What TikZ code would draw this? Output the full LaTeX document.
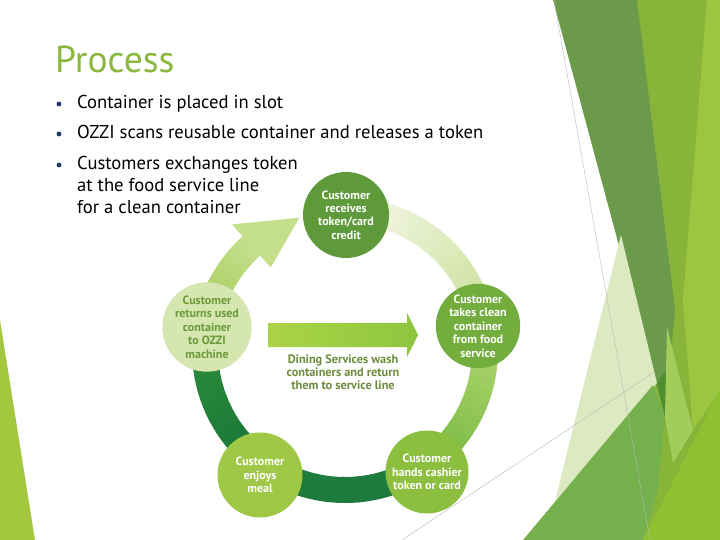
\documentclass[tikz,border=0pt]{standalone}
\usepackage{fontspec}
\setmainfont{PT Sans}
\definecolor{titlegreen}{HTML}{8AB83E}
\definecolor{bulletnavy}{HTML}{1F3864}
\definecolor{midtext}{HTML}{6E8C3E}
\definecolor{lefttext}{HTML}{6B9A3A}
\definecolor{cTop}{HTML}{5F9A3A}
\definecolor{cRight}{HTML}{72AD3E}
\definecolor{cBR}{HTML}{8CBE3F}
\definecolor{cBL}{HTML}{9EC846}
\definecolor{cLeft}{HTML}{D6E6B0}
\definecolor{sAa}{HTML}{9EC74F}
\definecolor{sAb}{HTML}{C4DF8C}
\definecolor{sBa}{HTML}{F7F9EE}
\definecolor{sBb}{HTML}{C9DE94}
\definecolor{sCa}{HTML}{B4D873}
\definecolor{sCb}{HTML}{6FB43A}
\definecolor{sDa}{HTML}{1D7C3D}
\definecolor{sDb}{HTML}{1D7C3D}
\definecolor{sEa}{HTML}{157337}
\definecolor{sEb}{HTML}{2E8C3B}
\definecolor{arrA}{HTML}{ABD445}
\definecolor{arrB}{HTML}{8DC63F}
\definecolor{decBase}{HTML}{88B43A}
\definecolor{decStrip}{HTML}{9BC640}
\definecolor{decDark}{HTML}{6A9A4A}
\definecolor{decPale}{HTML}{DDE9C0}
\definecolor{decVPale}{HTML}{EEF4E2}
\definecolor{decMid}{HTML}{74B04C}
\definecolor{decBright}{HTML}{8FC030}
\definecolor{decLight}{HTML}{A2CD5C}
\definecolor{decDeep}{HTML}{4F8F30}
\definecolor{sliver}{HTML}{A3C840}
\newcommand\ringseg[5]{%
  \foreach \k in {1,...,#5}{%
    \pgfmathsetmacro\aa{#1+(#2-#1)*(\k-1)/#5}%
    \pgfmathsetmacro\ab{#1+(#2-#1)*\k/#5+0.4}%
    \pgfmathtruncatemacro\pc{100-100*(\k-0.5)/#5}%
    \fill[#3!\pc!#4] (\aa:127) arc[start angle=\aa,end angle=\ab,radius=127]
      -- (\ab:153) arc[start angle=\ab,end angle=\aa,radius=153] -- cycle;
  }}
\tikzset{
  stage/.style={circle, minimum size=#1, inner sep=0pt, align=center,
    font=\bfseries\fontsize{12}{13.4}\selectfont, text=white},
  bul/.style={anchor=base west, font=\fontsize{18.6}{22}\selectfont, text=black, inner sep=0pt},
  grayline/.style={draw=gray!55, line width=0.4pt}
}
\begin{document}
\begin{tikzpicture}[x=1pt,y=-1pt]
\useasboundingbox (0,0) rectangle (720,540);
\fill[white] (0,0) rectangle (720,540);
% decoration right
\fill[decBase] (637,0) -- (720,0) -- (720,540) -- (640,540) -- cycle;
\fill[decStrip] (707,0) -- (720,0) -- (720,390) -- (693,430) -- (683,300) -- cycle;
\fill[decVPale] (553,0) -- (566,0) -- (628,262) -- (621,235) -- cycle;
\fill[decDark] (553,0) -- (637,0) -- (675,310) -- (665,417) -- cycle;
\fill[decDeep] (657,383) -- (668,367) -- (665,417) -- cycle;
\fill[decPale] (621,235) -- (657,383) -- (555,501) -- cycle;
\fill[decMid] (653,385) -- (523,540) -- (643,540) -- (657,493) -- (665,417) -- cycle;
\fill[decLight] (667,327) -- (693,430) -- (673,463) -- (665,417) -- cycle;
\fill[decBright] (643,540) -- (720,390) -- (720,540) -- cycle;
\draw[grayline] (554,0) -- (650,540);
\draw[grayline] (402,540) -- (653,373);
% left sliver
\fill[sliver] (0,320) -- (35,540) -- (0,540) -- cycle;
% title and bullets
\node[anchor=base west, inner sep=0pt, text=titlegreen, font=\fontsize{37.5}{44}\selectfont] (title) at (55,73) {Process};
\fill[bulletnavy] (59,104) circle (2.4);
\fill[bulletnavy] (59,134) circle (2.4);
\fill[bulletnavy] (59,165) circle (2.4);
\node[bul] (b1) at (77,109) {Container is placed in slot};
\node[bul] (b2) at (77,139) {OZZI scans reusable container and releases a token};
\node[bul] (b3) at (77,170) {Customers exchanges token};
\node[bul] (b3b) at (77,192) {at the food service line};
\node[bul] (b3c) at (77,214) {for a clean container};
% ring
\begin{scope}[shift={(345,350)}]
  \ringseg{186}{228}{sAa}{sAb}{30}
  \fill[sAb] (228:111) -- (228:169) -- (251:140) -- cycle;
  \ringseg{270}{352}{sBa}{sBb}{40}
  \ringseg{352}{420}{sCa}{sCb}{36}
  \ringseg{60}{121}{sDa}{sDb}{10}
  \ringseg{120}{186}{sEa}{sEb}{34}
\end{scope}
% middle arrow
\shade[left color=arrA, right color=arrB] (268,323) -- (407,323) -- (407,313) -- (418,335) -- (407,357) -- (407,347) -- (268,347) -- cycle;
\node[align=center, text=midtext, font=\bfseries\fontsize{12.3}{13.2}\selectfont] (mid) at (343,372) {Dining Services wash\\containers and return\\them to service line};
% stages
\node[stage=86pt, fill=cTop] (top) at (346,215) {Customer\\receives\\token/card\\credit};
\node[stage=82pt, fill=cRight] (right) at (478,326) {Customer\\takes clean\\container\\from food\\service};
\node[stage=83pt, fill=cBR] (br) at (427,472) {Customer\\hands cashier\\token or card};
\node[stage=85pt, fill=cBL] (bl) at (260,475) {Customer\\enjoys\\meal};
\node[stage=86pt, fill=cLeft, text=lefttext] (left) at (207,327) {Customer\\returns used\\container\\to OZZI\\machine};
\end{tikzpicture}
\end{document}
